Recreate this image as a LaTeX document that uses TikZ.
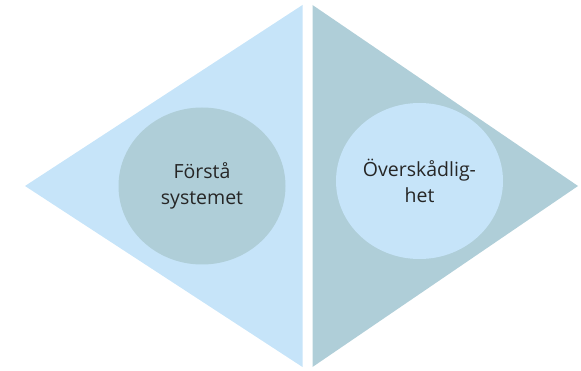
\documentclass[tikz,border=0pt]{standalone}
\usepackage{fontspec}
\setmainfont{Open Sans}
\usepackage{tikz}
\usetikzlibrary{shapes}

\definecolor{paleblue}{HTML}{C6E4F9}
\definecolor{greyblue}{HTML}{AFCED8}
\definecolor{textgrey}{HTML}{262626}

\tikzset{
    wedge/.style={draw=none},
    blob/.style={ellipse, draw=none, inner sep=0pt, align=center,
        text=textgrey, font=\fontsize{19.5}{26}\selectfont}
}

\begin{document}
\begin{tikzpicture}[x=1pt,y=-1pt]
    \useasboundingbox (0,0) rectangle (581,371);
    % two halves of the diamond
    \fill[wedge,paleblue] (25,186) -- (302.5,5) -- (302.5,367) -- cycle;
    \fill[wedge,greyblue] (312.5,5) -- (578,186) -- (312.5,367) -- cycle;

    \node[blob, fill=greyblue, minimum width=167pt, minimum height=157pt]
        (understand) at (202,186) {Förstå\\systemet};
    \node[blob, fill=paleblue, minimum width=167pt, minimum height=156pt]
        (overview) at (419.5,181) {Överskådlig-\\het};
\end{tikzpicture}
\end{document}
